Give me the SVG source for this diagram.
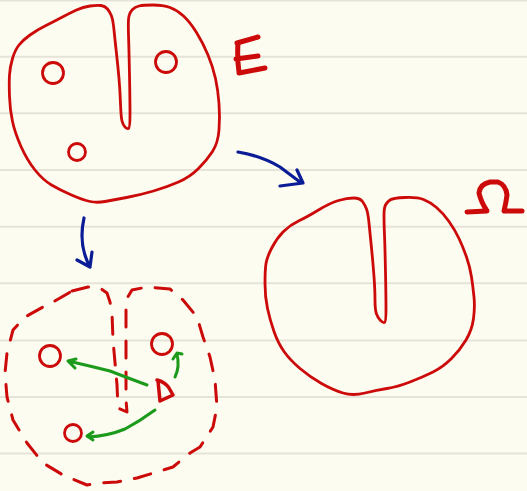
<svg xmlns="http://www.w3.org/2000/svg" width="527" height="491" viewBox="0 0 527 491">
<defs>
<style>
.bg{fill:#fdfcf0}
.rule{stroke:#e6e4d8;stroke-width:2}
.red{fill:none;stroke:#cc0a0a;stroke-width:2.8;stroke-linecap:round;stroke-linejoin:round}
.dash{fill:none;stroke:#cc0a0a;stroke-width:3;stroke-linecap:round;stroke-linejoin:round;stroke-dasharray:17 14}
.letter{fill:none;stroke:#cc0a0a;stroke-width:5;stroke-linecap:round;stroke-linejoin:round}
.letter2{fill:none;stroke:#cc0a0a;stroke-width:3.5;stroke-linecap:round;stroke-linejoin:round}
.blue{fill:none;stroke:#0b1d96;stroke-width:3.2;stroke-linecap:round;stroke-linejoin:round}
.green{fill:none;stroke:#1c9a1c;stroke-width:3;stroke-linecap:round;stroke-linejoin:round}
</style>
</defs>
<rect class="bg" x="0" y="0" width="527" height="491"/>
<g id="paper-lines">
<line class="rule" x1="0" y1="0.5" x2="527" y2="0.5"/>
<line class="rule" x1="0" y1="56.7" x2="527" y2="56.7"/>
<line class="rule" x1="0" y1="113.3" x2="527" y2="113.3"/>
<line class="rule" x1="0" y1="170" x2="527" y2="170"/>
<line class="rule" x1="0" y1="226.7" x2="527" y2="226.7"/>
<line class="rule" x1="0" y1="283.3" x2="527" y2="283.3"/>
<line class="rule" x1="0" y1="340.5" x2="527" y2="340.5"/>
<line class="rule" x1="0" y1="397" x2="527" y2="397"/>
<line class="rule" x1="0" y1="453.5" x2="527" y2="453.5"/>
</g>
<g id="node-E">
<path class="red" d="M90,6 Q97,5 101,5.5 Q105,6 107.5,9 Q110,12 111.5,16 Q113,20 114,30 Q115,40 116.5,53.5 Q118,67 119,78.5 Q120,90 120.5,103.5 Q121,117 122,121 Q123,125 125,127 Q127,129 128.5,128.5 Q130,128 130,114 Q130,100 129.5,75 Q129,50 128.5,35 Q128,20 129,16 Q130,12 132.5,9.5 Q135,7 139,6 Q143,5 153,5 Q163,5 170,7.5 Q177,10 183.5,16 Q190,22 196.5,32.5 Q203,43 208,55 Q213,67 215.5,78.5 Q218,90 219,103.5 Q220,117 219,130 Q218,143 212.5,151.5 Q207,160 198.5,168.5 Q190,177 178.5,182 Q167,187 153.5,191 Q140,195 126.5,197.5 Q113,200 105,201.5 Q97,203 90,201.5 Q83,200 71.5,195 Q60,190 51.5,185 Q43,180 35,170 Q27,160 21,146.5 Q15,133 12.5,121.5 Q10,110 9.5,96.5 Q9,83 9.5,75 Q10,67 12.5,58.5 Q15,50 19,45 Q23,40 30,35 Q37,30 45,26 Q53,22 61.5,17.5 Q70,13 76.5,10 Q83,7 90,6 Z"/>
<circle class="red" cx="53" cy="73" r="10.5"/>
<circle class="red" cx="166" cy="62" r="10.5"/>
<circle class="red" cx="77" cy="152" r="8.5"/>
<path class="letter" d="M237,43 L258,37 M238,43 Q237,58 239,72 M236,59 L258,56 M239,73 L265,68"/>
</g>
<g id="node-Omega">
<path class="red" d="M353.5,198 Q360,198 362.5,201.5 Q365,205 366.5,209 Q368,213 369,223 Q370,233 371.5,248 Q373,263 374,276.5 Q375,290 375,300 Q375,310 376.5,314 Q378,318 380.5,320.5 Q383,323 384.5,322.5 Q386,322 386,309.5 Q386,297 385.5,272 Q385,247 384.5,235 Q384,223 384,215.5 Q384,208 385.5,205 Q387,202 390,200 Q393,198 405,197.5 Q417,197 423.5,199.5 Q430,202 436.5,207.5 Q443,213 449,221.5 Q455,230 459,238.5 Q463,247 466.5,257 Q470,267 471.5,277 Q473,287 474,297 Q475,307 473.5,318.5 Q472,330 466,340 Q460,350 451.5,358.5 Q443,367 433,372 Q423,377 410,382 Q397,387 387,388.5 Q377,390 365,393 Q353,396 343,393 Q333,390 321.5,383.5 Q310,377 300,368.5 Q290,360 284,351.5 Q278,343 274,331.5 Q270,320 267.5,308.5 Q265,297 265,283.5 Q265,270 266,263.5 Q267,257 272,247.5 Q277,238 283.5,231.5 Q290,225 298.5,221 Q307,217 318.5,210 Q330,203 338.5,200.5 Q347,198 353.5,198 Z"/>
<path class="letter" d="M467,212 L487,211 Q481,202 479,193 Q480,184 490,182 L498,182 Q506,185 507,195 Q506,203 504,211 L522,211"/>
</g>
<g id="node-D-figure">
<path class="dash" d="M72,291 L88,287 L100,288 L107,293 L110,302 L112,313 L113,340 L117,385 L118,408 L127,412 L126,400 L126,357 L126,313 L126,300 L132,290 L147,287 L170,289 L183,300 L197,317 L203,337 L210,357 L215,380 L217,407 L213,427 L200,447 L190,453 L173,467 L157,472 L137,478 L117,482 L100,483 L87,485 L63,475 L43,463 L27,443 L13,420 L7,397 L5,373 L7,353 L13,330 L25,317 L43,307 L53,302 Z"/>
<circle class="red" cx="50" cy="356" r="10.5"/>
<circle class="red" cx="162" cy="344" r="10.5"/>
<circle class="red" cx="73" cy="433" r="8.5"/>
<path class="letter2" d="M158,381 L160,401 M157,380 Q165,382 169,388 L173,395 L160,401"/>
</g>
<g id="connectors">
<path class="blue" d="M238,152 Q262,156 280,167 L300,182 M280,186 L303,183 L297,170"/>
<path class="blue" d="M84,218 Q78,245 90,267 M77,260 L90,267 L92,252"/>
<path class="green" d="M147,385 Q128,378 110,371 Q90,366 68,361 M75,368 L68,361 L76,359"/>
<path class="green" d="M155,410 Q140,421 125,429 Q108,436 88,437 M93,432 L87,436 L93,440"/>
<path class="green" d="M175,377 Q180,367 177,354 M173,359 L177,353 L182,354"/>
</g>
</svg>
